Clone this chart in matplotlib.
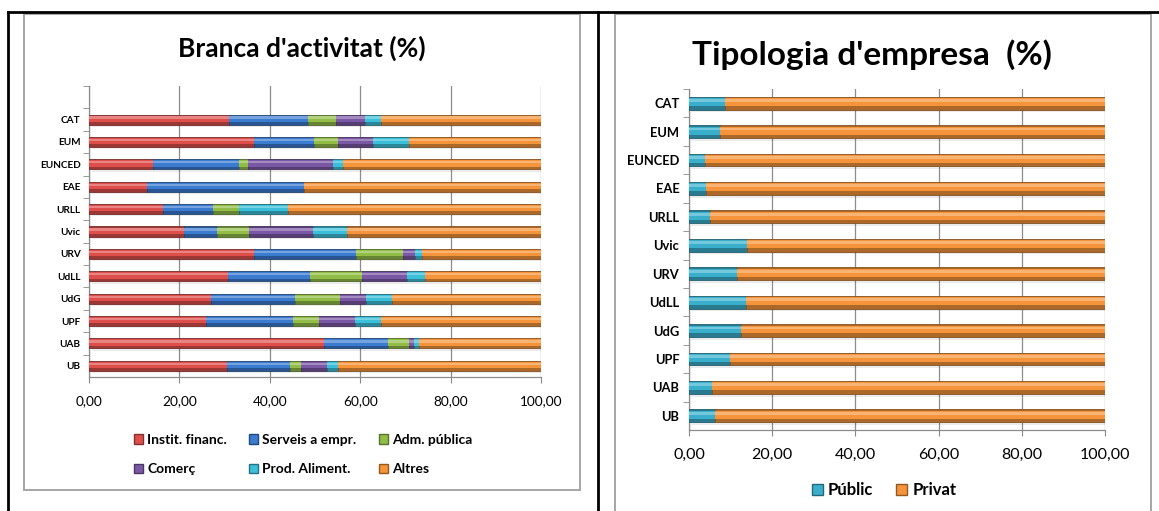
import matplotlib.pyplot as plt
import matplotlib.colors as mcolors
from matplotlib.patches import Rectangle, Patch
from matplotlib.lines import Line2D
from matplotlib.ticker import FuncFormatter
import numpy as np

# universitats / agregats (de baix a dalt)
centres = ["UB", "UAB", "UPF", "UdG", "UdLL", "URV", "Uvic", "URLL", "EAE", "EUNCED", "EUM", "CAT"]

# Branca d'activitat (%)
instit = [30.6, 52.1, 25.8, 27.0, 30.8, 36.6, 21.1, 16.4, 12.8, 14.2, 36.6, 31.0]
serveis = [13.9, 14.1, 19.4, 18.6, 18.2, 22.4, 7.3, 11.1, 34.7, 19.0, 13.2, 17.4]
adm = [2.4, 4.6, 5.6, 9.9, 11.3, 10.4, 7.1, 5.7, 0.0, 2.0, 5.2, 6.2]
comerc = [5.7, 1.1, 8.0, 5.8, 10.1, 2.8, 14.1, 0.0, 0.0, 18.8, 7.9, 6.5]
aliment = [2.4, 1.0, 5.7, 5.7, 4.0, 1.4, 7.4, 10.9, 0.0, 2.3, 7.9, 3.5]
altres = [45.0, 27.1, 35.5, 33.0, 25.6, 26.4, 43.0, 55.9, 52.5, 43.7, 29.2, 35.4]

# Tipologia d'empresa (%)
public = [6.3, 5.6, 9.9, 12.5, 13.8, 11.5, 13.9, 5.1, 4.2, 3.8, 7.5, 8.7]
privat = [93.7, 94.4, 90.1, 87.5, 86.2, 88.5, 86.1, 94.9, 95.8, 96.2, 92.5, 91.3]

branques = ["Instit. financ.", "Serveis a empr.", "Adm. pública", "Comerç", "Prod. Aliment.", "Altres"]
colors_branca = ["#DE4F4C", "#3B7BD0", "#92BE48", "#7B58A6", "#3CC0DA", "#F5943A"]
colors_tipus = ["#3AAFCB", "#F5943A"]

xticks = [0, 20, 40, 60, 80, 100]

W, H = 1159, 511
fig = plt.figure(figsize=(W / 100, H / 100), dpi=100)
fig.patch.set_facecolor("white")

FONT = "Lato"


def box(x0, y0, x1, y1):
    # pixel box (top-left origin) -> figure fraction [l, b, w, h]
    return [x0 / W, 1 - y1 / H, (x1 - x0) / W, (y1 - y0) / H]


def shade(c, f):
    c = np.array(mcolors.to_rgb(c))
    if f > 0:
        return tuple(c + (1 - c) * f)
    return tuple(c * (1 + f))


def stacked(ax, series, colors, height):
    y = np.arange(len(centres))
    left = np.zeros(len(centres))
    # soft shadow under each bar
    total = np.sum(series, axis=0)
    ax.barh(y - height * 0.22, total, left=0.6, height=height, color="#000000",
            alpha=0.08, zorder=2, linewidth=0)
    for vals, c in zip(series, colors):
        vals = np.array(vals)
        ax.barh(y, vals, left=left, height=height, color=shade(c, -0.3),
                edgecolor=shade(c, -0.45), linewidth=0.6, zorder=3)
        ax.barh(y + height * 0.08, vals, left=left, height=height * 0.62,
                color=c, linewidth=0, zorder=4)
        ax.barh(y + height * 0.2, vals, left=left, height=height * 0.22,
                color=shade(c, 0.3), linewidth=0, zorder=5)
        left += vals


def style_axes(ax, ylab_size, tick_size, ypad):
    ax.set_xlim(0, 100)
    ax.set_xticks(xticks)
    ax.xaxis.set_major_formatter(FuncFormatter(lambda v, p: f"{v:.2f}".replace(".", ",")))
    ax.set_yticks(np.arange(len(centres)))
    ax.set_yticklabels(centres, fontsize=ylab_size, fontweight="bold", family=FONT)
    ax.set_yticks(np.arange(len(centres)) + 0.5, minor=True)
    ax.tick_params(axis="y", which="major", length=0, pad=ypad)
    ax.tick_params(axis="y", which="minor", length=4, color="#888888", direction="out")
    ax.tick_params(axis="x", length=4, color="#888888", labelsize=tick_size, pad=9)
    for lbl in ax.get_xticklabels():
        lbl.set_family(FONT)
    ax.grid(axis="x", color="#8c8c8c", linewidth=0.9, zorder=0)
    ax.set_axisbelow(True)
    for s in ["top", "right"]:
        ax.spines[s].set_visible(False)
    for s in ["left", "bottom"]:
        ax.spines[s].set_color("#8c8c8c")
        ax.spines[s].set_linewidth(0.9)


# table borders and chart frames
fig.add_artist(Line2D([8 / W, 1], [1 - 12 / H] * 2, color="black", lw=2, transform=fig.transFigure))
fig.add_artist(Line2D([8 / W] * 2, [0, 1 - 12 / H], color="black", lw=2, transform=fig.transFigure))
fig.add_artist(Line2D([598 / W] * 2, [0, 1 - 12 / H], color="black", lw=2, transform=fig.transFigure))
l, b, w, h = box(24, 14, 580, 490)
fig.add_artist(Rectangle((l, b), w, h, fill=False, edgecolor="#a6a6a6", lw=1.4, transform=fig.transFigure))
l, b, w, h = box(615, 14, 1151, 520)
fig.add_artist(Rectangle((l, b), w, h, fill=False, edgecolor="#a6a6a6", lw=1.4, transform=fig.transFigure))

# left chart: branca d'activitat
ax1 = fig.add_axes(box(89, 86, 541, 377))
stacked(ax1, [instit, serveis, adm, comerc, aliment, altres], colors_branca, 0.45)
style_axes(ax1, 7.2, 9.8, 6)
ax1.set_ylim(-0.5, len(centres) + 0.5)
ax1.set_yticks(np.arange(len(centres) + 1) + 0.5, minor=True)
fig.text(302 / W, 1 - 48 / H, "Branca d'activitat (%)", ha="center", va="center",
         fontsize=19, fontweight="bold", family=FONT)

handles = [Patch(facecolor=c, edgecolor=shade(c, -0.4)) for c in colors_branca]
order = [0, 3, 1, 4, 2, 5]
fig.legend([handles[i] for i in order], [branques[i] for i in order], ncol=3,
           loc="upper left", bbox_to_anchor=(127 / W, 1 - 427 / H), frameon=False,
           prop={"family": FONT, "weight": "bold", "size": 10},
           handlelength=0.65, handleheight=0.65, handletextpad=0.3,
           columnspacing=1.6, labelspacing=1.25, borderpad=0)

# right chart: tipologia d'empresa
ax2 = fig.add_axes(box(689, 89, 1105, 430))
stacked(ax2, [public, privat], colors_tipus, 0.45)
style_axes(ax2, 9.3, 11.5, 7)
ax2.set_ylim(-0.5, len(centres) - 0.5)
fig.text(872 / W, 1 - 55 / H, "Tipologia d'empresa  (%)", ha="center", va="center",
         fontsize=24, fontweight="bold", family=FONT)

handles2 = [Patch(facecolor=c, edgecolor=shade(c, -0.4)) for c in colors_tipus]
fig.legend(handles2, ["Públic", "Privat"], ncol=2, loc="center",
           bbox_to_anchor=(884 / W, 1 - 490 / H), frameon=False,
           prop={"family": FONT, "weight": "bold", "size": 12},
           handlelength=0.65, handleheight=0.65, handletextpad=0.3,
           columnspacing=1.4, borderpad=0)

fig.savefig("out.png", dpi=100)
